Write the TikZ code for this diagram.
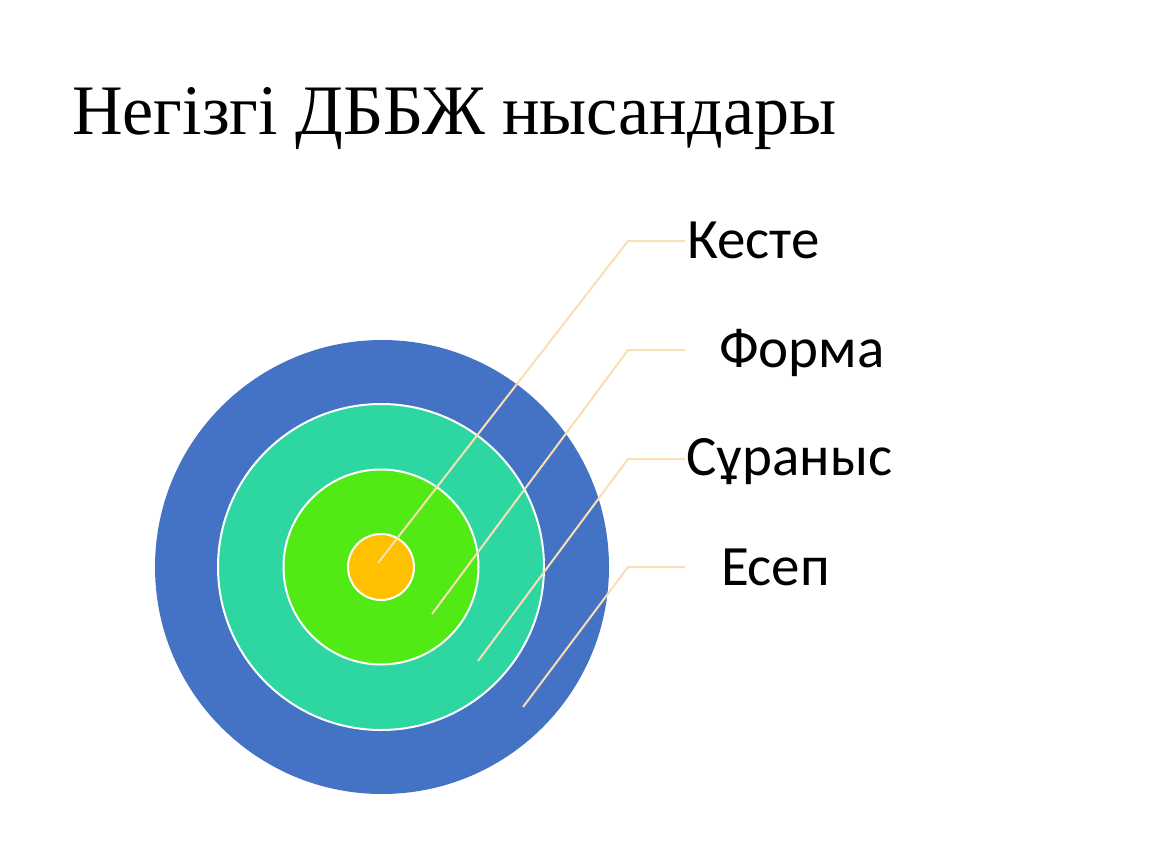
\documentclass[tikz,border=0pt]{standalone}
\usepackage{fontspec}
\setmainfont{Liberation Serif}
\newfontfamily\labelfont{Carlito}
\definecolor{ringblue}{RGB}{68,114,196}
\definecolor{ringteal}{RGB}{46,214,162}
\definecolor{ringgreen}{RGB}{82,234,20}
\definecolor{ringorange}{RGB}{255,192,0}
\definecolor{leader}{RGB}{250,222,180}
\tikzset{
  ring/.style={draw=white, line width=2pt},
  leaderline/.style={draw=leader, line width=2pt},
  lbl/.style={anchor=base west, inner sep=0pt, font=\labelfont\fontsize{57}{62}\selectfont},
}
\begin{document}
\begin{tikzpicture}[x=1pt,y=-1pt]
\useasboundingbox (0,0) rectangle (1150,864);
\fill[white] (0,0) rectangle (1150,864);
\node[anchor=base west, inner sep=0pt, font=\fontsize{71}{80}\selectfont] (title) at (72,134) {\scalebox{0.987}[1]{Негізгі ДББЖ нысандары}};
\fill[ringblue] (382,567) circle (227);
\filldraw[ring, fill=ringteal] (381,567) circle (163);
\filldraw[ring, fill=ringgreen] (381,567) circle (97.5);
\filldraw[ring, fill=ringorange] (381,567) circle (33);
\coordinate (c1) at (378,563);
\coordinate (c2) at (432,614);
\coordinate (c3) at (478,661);
\coordinate (c4) at (523,707);
\coordinate (e1) at (628,241);
\coordinate (e2) at (628,350);
\coordinate (e3) at (628,459);
\coordinate (e4) at (628,567);
\coordinate (f1) at (685,241);
\coordinate (f2) at (685,350);
\coordinate (f3) at (685,459);
\coordinate (f4) at (685,567);
\draw[leaderline] (c1) -- (e1) -- (f1);
\draw[leaderline] (c2) -- (e2) -- (f2);
\draw[leaderline] (c3) -- (e3) -- (f3);
\draw[leaderline] (c4) -- (e4) -- (f4);
\node[lbl] (l1) at (687,258) {Кесте};
\node[lbl] (l2) at (719,367) {Форма};
\node[lbl] (l3) at (686,475) {Сұраныс};
\node[lbl] (l4) at (721,585) {Есеп};
\end{tikzpicture}
\end{document}
